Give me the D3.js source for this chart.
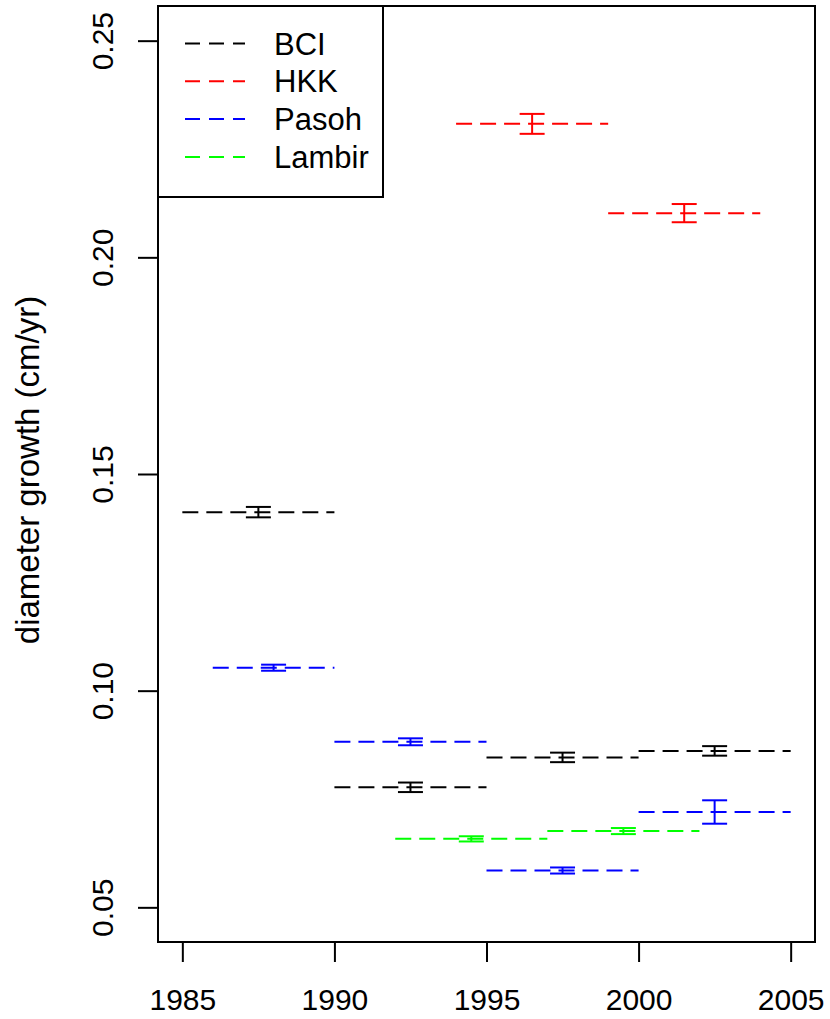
<!DOCTYPE html>
<html>
<head>
<meta charset="utf-8">
<script src="https://cdn.jsdelivr.net/npm/d3@7/dist/d3.min.js"></script>
<style>
  body { margin: 0; background: #fff; }
  text { font-family: "Liberation Sans", Arial, sans-serif; fill: #000; }
</style>
</head>
<body>
<svg id="chart" width="830" height="1019"></svg>
<script>
    // census intervals, mean diameter growth (cm/yr) and its error
    const sites = ["BCI", "HKK", "Pasoh", "Lambir"],
        siteColors = ["#000000", "#ff0000", "#0000ff", "#00ff00"];

    const bciStart = [1985, 1990, 1995, 2000],
        bciEnd = [1990, 1995, 2000, 2005],
        bciGrowth = [0.1412, 0.0777, 0.0846, 0.0861],
        bciErr = [0.0012, 0.0011, 0.0011, 0.0011];

    const hkkStart = [1994, 1999],
        hkkEnd = [1999, 2004],
        hkkGrowth = [0.2308, 0.2102],
        hkkErr = [0.0023, 0.0021];

    const pasohStart = [1986, 1990, 1995, 2000],
        pasohEnd = [1990, 1995, 2000, 2005],
        pasohGrowth = [0.1053, 0.0882, 0.0585, 0.0720],
        pasohErr = [0.0007, 0.0008, 0.0007, 0.0027];

    const lambirStart = [1992, 1997],
        lambirEnd = [1997, 2002],
        lambirGrowth = [0.0658, 0.0676],
        lambirErr = [0.0006, 0.0007];

    const xTicks = [1985, 1990, 1995, 2000, 2005],
        yTicks = [0.05, 0.10, 0.15, 0.20, 0.25];

    let svg = d3.select('#chart'),
        pLeft = 158, pRight = 815, pTop = 6, pBottom = 942;

    let x = d3.scaleLinear().domain([1984.2, 2005.8]).range([pLeft, pRight]),
        y = d3.scaleLinear().domain([0.042, 0.258]).range([pBottom, pTop]);

    //axes
    let gx = svg.append('g')
        .attr('transform', `translate(0,${pBottom})`)
        .call(d3.axisBottom(x).tickValues(xTicks).tickFormat(d3.format('d')).tickSize(20).tickPadding(27));
    gx.select('.domain').remove();
    gx.selectAll('line').attr('stroke', '#000').attr('stroke-width', 2);
    gx.selectAll('text').style('font-size', '30px').attr('fill', '#000');

    let gy = svg.append('g')
        .attr('transform', `translate(${pLeft},0)`)
        .call(d3.axisLeft(y).tickValues(yTicks).tickFormat(d3.format('.2f')).tickSize(20));
    gy.select('.domain').remove();
    gy.selectAll('line').attr('stroke', '#000').attr('stroke-width', 2);
    gy.selectAll('text')
        .style('font-size', '30px')
        .attr('fill', '#000')
        .attr('text-anchor', 'middle')
        .attr('x', 0).attr('y', -45).attr('dy', null)
        .attr('transform', 'rotate(-90)');

    svg.append('text')
        .attr('transform', 'translate(39,470) rotate(-90)')
        .attr('text-anchor', 'middle')
        .style('font-size', '33px')
        .text('diameter growth (cm/yr)');

    //segments and error bars
    let dataSets = [
        [bciStart, bciEnd, bciGrowth, bciErr],
        [hkkStart, hkkEnd, hkkGrowth, hkkErr],
        [pasohStart, pasohEnd, pasohGrowth, pasohErr],
        [lambirStart, lambirEnd, lambirGrowth, lambirErr]
    ];

    dataSets.forEach((ds, k) => {
        let col = siteColors[k],
            g = svg.append('g');
        ds[0].forEach((s, i) => {
            let e = ds[1][i], v = ds[2][i], err = ds[3][i], mid = (s + e) / 2;
            g.append('line')
                .attr('x1', x(s)).attr('x2', x(e))
                .attr('y1', y(v)).attr('y2', y(v))
                .attr('stroke', col).attr('stroke-width', 2)
                .attr('stroke-dasharray', '16 8');
            g.append('line')
                .attr('x1', x(mid)).attr('x2', x(mid))
                .attr('y1', y(v - err)).attr('y2', y(v + err))
                .attr('stroke', col).attr('stroke-width', 2);
            [v - err, v + err].forEach(c => {
                g.append('line')
                    .attr('x1', x(mid) - 12.5).attr('x2', x(mid) + 12.5)
                    .attr('y1', y(c)).attr('y2', y(c))
                    .attr('stroke', col).attr('stroke-width', 2);
            });
        });
    });

    //frame
    svg.append('rect')
        .attr('x', pLeft).attr('y', pTop)
        .attr('width', pRight - pLeft).attr('height', pBottom - pTop)
        .attr('fill', 'none').attr('stroke', '#000').attr('stroke-width', 2);

    //legend
    let leg = svg.append('g');
    leg.append('rect')
        .attr('x', pLeft).attr('y', pTop)
        .attr('width', 225).attr('height', 191)
        .attr('fill', '#fff').attr('stroke', '#000').attr('stroke-width', 2);
    sites.forEach((s, i) => {
        let ly = 43.5 + i * 37.8;
        leg.append('line')
            .attr('x1', 185).attr('x2', 245)
            .attr('y1', ly).attr('y2', ly)
            .attr('stroke', siteColors[i]).attr('stroke-width', 2)
            .attr('stroke-dasharray', '15 9');
        leg.append('text')
            .attr('x', 274).attr('y', ly + 11)
            .style('font-size', '31px')
            .text(s);
    });
</script>
</body>
</html>
